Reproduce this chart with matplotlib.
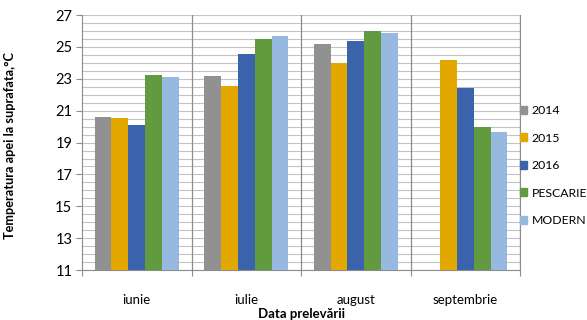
import numpy as np
import matplotlib.pyplot as plt
from matplotlib.patches import Patch
from matplotlib.ticker import MultipleLocator

plt.rcParams['font.family'] = ['Lato', 'DejaVu Sans']

# Surface water temperatures per sampling month
months = ['iunie', 'iulie', 'august', 'septembrie']
t2014 = [20.6, 23.2, 25.2, np.nan]
t2015 = [20.55, 22.55, 24.0, 24.2]
t2016 = [20.1, 24.55, 25.35, 22.45]
pescarie = [23.25, 25.5, 26.0, 19.95]
modern = [23.1, 25.7, 25.9, 19.65]

series = [('2014', t2014, '#919191'),
          ('2015', t2015, '#e2a800'),
          ('2016', t2016, '#3b63ab'),
          ('PESCARIE', pescarie, '#629a3f'),
          ('MODERN', modern, '#98b9df')]

fig = plt.figure(figsize=(5.87, 3.2), dpi=100)
ax = fig.add_axes([0.1397, 0.156, 0.886 - 0.1397, 0.953 - 0.156])

x = np.arange(len(months))
w = 0.154
for i, (name, vals, col) in enumerate(series):
    ax.bar(x + (i - 2) * w, vals, width=w, bottom=0, color=col, zorder=3)

ax.set_ylim(11, 27)
ax.set_xlim(-0.5, 3.5)
ax.set_yticks(np.arange(11, 28, 2))
ax.yaxis.set_minor_locator(MultipleLocator(0.5))
ax.grid(axis='y', which='both', color='#c4c4c4', lw=0.8, zorder=0)

# category dividers
ax.set_xticks(np.arange(-0.5, 4, 1))
ax.set_xticklabels([])
ax.set_xticks(x, minor=True)
ax.set_xticklabels(months, minor=True, fontsize=9.5)
ax.tick_params(axis='x', which='minor', length=0, pad=17)
ax.tick_params(axis='x', which='major', length=4, color='#8c8c8c')
ax.tick_params(axis='y', which='major', length=4, color='#8c8c8c', labelsize=10.5, pad=3)
ax.tick_params(axis='y', which='minor', length=0)
for xv in np.arange(0.5, 4, 1):
    ax.axvline(xv, color='#8c8c8c', lw=0.9, zorder=2)

ax.spines['top'].set_visible(False)
for s in ['left', 'right', 'bottom']:
    ax.spines[s].set_color('#8c8c8c')

ax.set_ylabel('Temperatura apei la suprafata,°C', fontsize=9.2, fontweight='bold')
ax.yaxis.set_label_coords(-0.15, 0.49)
ax.set_xlabel('Data prelevării', fontsize=9.5, fontweight='bold')
ax.xaxis.set_label_coords(0.5, -0.15)

handles = [Patch(color=c, label=n) for n, _, c in series]
ax.legend(handles=handles, loc='center left', bbox_to_anchor=(1.0, 0.41),
          frameon=False, fontsize=8.8, handlelength=0.6, handleheight=0.6,
          handletextpad=0.35, labelspacing=1.35, borderaxespad=0, borderpad=0)

fig.savefig('out.png', dpi=100)
